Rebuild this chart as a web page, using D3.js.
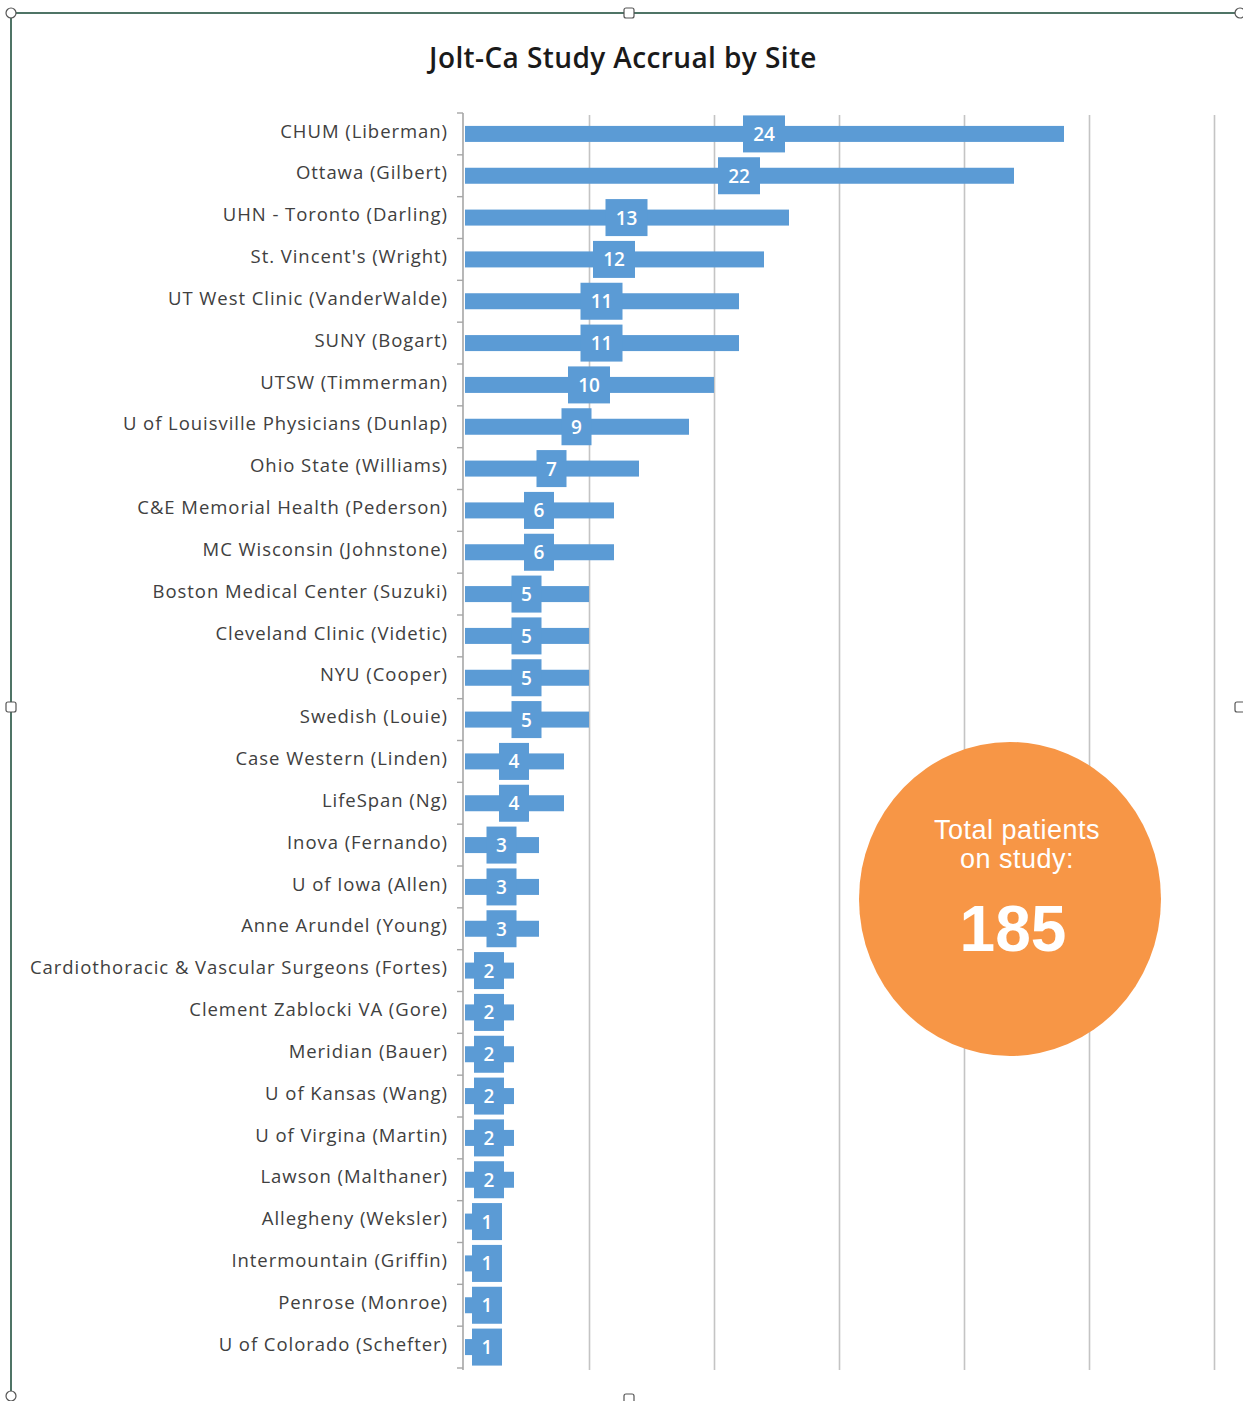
<!DOCTYPE html>
<html>
<head>
<meta charset="utf-8">
<script src="https://cdn.jsdelivr.net/npm/d3@7"></script>
<style>
  body { margin: 0; background: #fff; }
  svg { display: block; }
</style>
</head>
<body>
<div id="container"></div>
<script>
var sites = ['CHUM (Liberman)', 'Ottawa (Gilbert)', 'UHN - Toronto (Darling)', "St. Vincent's (Wright)",
  'UT West Clinic (VanderWalde)', 'SUNY (Bogart)', 'UTSW (Timmerman)', 'U of Louisville Physicians (Dunlap)',
  'Ohio State (Williams)', 'C&E Memorial Health (Pederson)', 'MC Wisconsin (Johnstone)',
  'Boston Medical Center (Suzuki)', 'Cleveland Clinic (Videtic)', 'NYU (Cooper)', 'Swedish (Louie)',
  'Case Western (Linden)', 'LifeSpan (Ng)', 'Inova (Fernando)', 'U of Iowa (Allen)', 'Anne Arundel (Young)',
  'Cardiothoracic & Vascular Surgeons (Fortes)', 'Clement Zablocki VA (Gore)', 'Meridian (Bauer)',
  'U of Kansas (Wang)', 'U of Virgina (Martin)', 'Lawson (Malthaner)', 'Allegheny (Weksler)',
  'Intermountain (Griffin)', 'Penrose (Monroe)', 'U of Colorado (Schefter)'];
var accrual = [24, 22, 13, 12, 11, 11, 10, 9, 7, 6, 6, 5, 5, 5, 5, 4, 4, 3, 3, 3, 2, 2, 2, 2, 2, 2, 1, 1, 1, 1];
var xTicks = [0, 5, 10, 15, 20, 25, 30];
var totalPatients = 185;

var width = 1243, height = 1401;
var blue = '#5B9BD5', orange = '#F79646';

var svg = d3.select('#container').append('svg')
    .attr('width', width)
    .attr('height', height);

// chart frame (selected Excel chart look)
var frame = svg.append('g');
frame.append('line').attr('x1', 11).attr('y1', 13).attr('x2', 1240).attr('y2', 13)
    .attr('stroke', '#4f7466').attr('stroke-width', 2);
frame.append('line').attr('x1', 11).attr('y1', 13).attr('x2', 11).attr('y2', 1396)
    .attr('stroke', '#4f7466').attr('stroke-width', 2);
[[11, 13], [1240, 13], [11, 1396]].forEach(function(p){
    frame.append('circle').attr('cx', p[0]).attr('cy', p[1]).attr('r', 5)
        .attr('fill', '#fff').attr('stroke', '#555').attr('stroke-width', 1.2);
});
[[629, 13], [11, 707], [1240, 707], [629, 1399]].forEach(function(p){
    frame.append('rect').attr('x', p[0] - 5).attr('y', p[1] - 5).attr('width', 10).attr('height', 10)
        .attr('rx', 2).attr('fill', '#fff').attr('stroke', '#555').attr('stroke-width', 1.2);
});

svg.append('text')
    .attr('x', 623).attr('y', 68)
    .attr('text-anchor', 'middle')
    .attr('font-family', 'Open Sans, sans-serif')
    .attr('font-weight', 600)
    .attr('font-size', 28)
    .attr('letter-spacing', 0.4)
    .attr('fill', '#1a1a1a')
    .text('Jolt-Ca Study Accrual by Site');

var x = d3.scaleLinear().domain([0, 30]).range([464, 1214]);
var y = d3.scaleBand().domain(sites).range([113, 1368]).paddingInner(0.6).paddingOuter(0.3);
var step = y.step();

// gridlines
svg.append('g')
    .attr('transform', 'translate(0,' + 1370 + ')')
    .call(d3.axisBottom(x).tickValues(xTicks.slice(1)).tickSize(-1255).tickFormat(''))
    .call(function(g){
        g.select('.domain').remove();
        g.selectAll('line').attr('stroke', '#c4c4c4').attr('stroke-width', 1.6);
    });

// category axis
var yAxis = svg.append('g')
    .attr('transform', 'translate(' + 463 + ',0)')
    .call(d3.axisLeft(y).tickSize(0).tickPadding(15));
yAxis.select('.domain').remove();
yAxis.selectAll('text')
    .attr('font-family', 'Open Sans, sans-serif')
    .attr('font-size', 18.5)
    .attr('letter-spacing', 0.95)
    .attr('fill', '#404040')
    .attr('dy', '0.2em');
svg.append('line').attr('x1', 463).attr('x2', 463).attr('y1', 113).attr('y2', 1370)
    .attr('stroke', '#a6a6a6').attr('stroke-width', 1.6);
svg.append('g').selectAll('line')
    .data(d3.range(sites.length + 1))
    .join('line')
    .attr('x1', 457).attr('x2', 463)
    .attr('y1', function(i){ return 113 + i*step; })
    .attr('y2', function(i){ return 113 + i*step; })
    .attr('stroke', '#a6a6a6').attr('stroke-width', 1.4);

// bars
var bars = svg.append('g');
bars.selectAll('rect')
    .data(sites)
    .join('rect')
    .attr('x', x(0) + 1)
    .attr('y', function(d){ return y(d) + y.bandwidth()/2 - 8; })
    .attr('width', function(d, i){ return x(accrual[i]) - x(0) - 1; })
    .attr('height', 16)
    .attr('fill', blue);

// data labels
var labels = svg.append('g');
sites.forEach(function(d, i){
    var v = accrual[i];
    var w = v >= 10 ? 42 : 30;
    var cx = (x(0) + x(v))/2;
    var left = Math.max(x(0) + 8, cx - w/2);
    var cy = y(d) + y.bandwidth()/2;
    labels.append('rect')
        .attr('x', left).attr('y', cy - 18.5)
        .attr('width', w).attr('height', 37)
        .attr('fill', blue);
    labels.append('text')
        .attr('x', left + w/2).attr('y', cy + 7)
        .attr('text-anchor', 'middle')
        .attr('font-family', 'Open Sans, sans-serif')
        .attr('font-weight', 600)
        .attr('font-size', 19)
        .attr('fill', '#fff')
        .text(v);
});

// total bubble
var bubble = svg.append('g');
bubble.append('ellipse')
    .attr('cx', 1010).attr('cy', 899)
    .attr('rx', 151).attr('ry', 157)
    .attr('fill', orange);
bubble.append('text').attr('x', 1017).attr('y', 839)
    .attr('text-anchor', 'middle')
    .attr('font-family', 'Liberation Sans, Arial, sans-serif')
    .attr('font-size', 27).attr('letter-spacing', 0.5).attr('fill', '#fff')
    .text('Total patients');
bubble.append('text').attr('x', 1017).attr('y', 868)
    .attr('text-anchor', 'middle')
    .attr('font-family', 'Liberation Sans, Arial, sans-serif')
    .attr('font-size', 27).attr('letter-spacing', 0.5).attr('fill', '#fff')
    .text('on study:');
bubble.append('text').attr('x', 1013).attr('y', 951)
    .attr('text-anchor', 'middle')
    .attr('font-family', 'Liberation Sans, Arial, sans-serif')
    .attr('font-weight', 'bold')
    .attr('font-size', 64).attr('fill', '#fff')
    .text(totalPatients);
</script>
</body>
</html>
